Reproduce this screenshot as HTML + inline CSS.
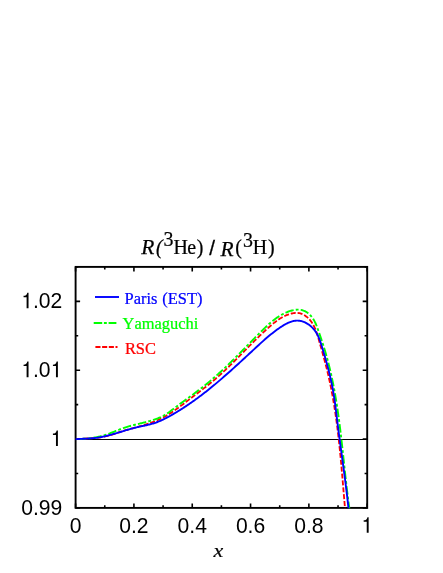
<!DOCTYPE html>
<html><head><meta charset="utf-8"><title>R(3He)/R(3H)</title>
<style>html,body{margin:0;padding:0;background:#fff;}svg{display:block;will-change:transform;}text{font-kerning:none;}</style>
</head><body>
<svg width="443" height="573" viewBox="0 0 443 573">
<rect width="443" height="573" fill="#fff"/>
<defs><clipPath id="c"><rect x="75.0" y="266.9" width="292.20" height="241.30"/></clipPath></defs>
<rect x="75.6" y="266.9" width="291.60" height="241.00" fill="none" stroke="#000" stroke-width="1.9"/>
<path d="M75.60,507.9 v-4.5 M75.60,266.9 v4.5 M104.76,507.9 v-2.6 M104.76,266.9 v2.6 M133.92,507.9 v-4.5 M133.92,266.9 v4.5 M163.08,507.9 v-2.6 M163.08,266.9 v2.6 M192.24,507.9 v-4.5 M192.24,266.9 v4.5 M221.40,507.9 v-2.6 M221.40,266.9 v2.6 M250.56,507.9 v-4.5 M250.56,266.9 v4.5 M279.72,507.9 v-2.6 M279.72,266.9 v2.6 M308.88,507.9 v-4.5 M308.88,266.9 v4.5 M338.04,507.9 v-2.6 M338.04,266.9 v2.6 M367.20,507.9 v-4.5 M367.20,266.9 v4.5 M75.6,507.90 h4.5 M367.2,507.90 h-4.5 M75.6,473.47 h2.6 M367.2,473.47 h-2.6 M75.6,439.04 h4.5 M367.2,439.04 h-4.5 M75.6,404.61 h2.6 M367.2,404.61 h-2.6 M75.6,370.19 h4.5 M367.2,370.19 h-4.5 M75.6,335.76 h2.6 M367.2,335.76 h-2.6 M75.6,301.33 h4.5 M367.2,301.33 h-4.5 M75.6,266.90 h2.6 M367.2,266.90 h-2.6" stroke="#000" stroke-width="1.6" fill="none"/>
<path d="M75.6,439.45 H367.2" stroke="#000" stroke-width="1.15" fill="none"/>
<g clip-path="url(#c)" fill="none" stroke-linejoin="round">
<path d="M75.61,439.25 L76.39,439.17 L77.16,439.11 L77.94,439.04 L78.72,438.98 L79.50,438.93 L80.29,438.87 L81.07,438.83 L81.85,438.78 L82.64,438.73 L83.43,438.69 L84.22,438.65 L85.00,438.61 L85.79,438.56 L86.58,438.52 L87.37,438.48 L88.16,438.44 L88.95,438.39 L89.74,438.35 L90.53,438.30 L91.32,438.25 L92.11,438.19 L92.90,438.14 L93.69,438.08 L94.48,438.01 L95.26,437.94 L96.05,437.86 L96.83,437.78 L97.62,437.69 L98.40,437.60 L99.18,437.50 L99.96,437.39 L100.73,437.27 L101.51,437.15 L102.28,437.02 L103.05,436.88 L103.82,436.72 L104.59,436.56 L105.36,436.39 L106.12,436.22 L106.88,436.03 L107.64,435.84 L108.40,435.64 L109.15,435.43 L109.91,435.22 L110.66,435.00 L111.42,434.78 L112.17,434.56 L112.92,434.32 L113.67,434.09 L114.42,433.85 L115.17,433.61 L115.92,433.37 L116.67,433.13 L117.42,432.88 L118.16,432.63 L118.91,432.39 L119.66,432.14 L120.41,431.89 L121.16,431.65 L121.91,431.41 L122.66,431.17 L123.41,430.93 L124.16,430.69 L124.91,430.46 L125.67,430.23 L126.42,430.00 L127.18,429.78 L127.93,429.56 L128.69,429.35 L129.45,429.13 L130.20,428.92 L130.96,428.71 L131.72,428.50 L132.48,428.29 L133.24,428.09 L134.00,427.88 L134.76,427.68 L135.52,427.47 L136.28,427.27 L137.04,427.06 L137.80,426.86 L138.56,426.65 L139.32,426.44 L140.07,426.23 L140.83,426.02 L141.59,425.80 L142.34,425.58 L143.10,425.36 L143.85,425.14 L144.61,424.91 L145.36,424.68 L146.11,424.45 L146.86,424.21 L147.61,423.97 L148.36,423.72 L149.10,423.47 L149.85,423.21 L150.59,422.94 L151.33,422.67 L152.07,422.40 L152.81,422.12 L153.54,421.84 L154.27,421.55 L155.00,421.25 L155.73,420.95 L156.46,420.64 L157.18,420.33 L157.90,420.01 L158.62,419.69 L159.33,419.36 L160.04,419.02 L160.75,418.68 L161.46,418.34 L162.16,417.98 L162.86,417.63 L163.55,417.26 L164.24,416.89 L164.93,416.52 L165.61,416.13 L166.29,415.75 L166.97,415.35 L167.64,414.95 L168.31,414.55 L168.97,414.14 L169.64,413.72 L170.30,413.30 L170.95,412.88 L171.61,412.45 L172.26,412.02 L172.91,411.58 L173.55,411.14 L174.20,410.69 L174.84,410.24 L175.48,409.79 L176.12,409.34 L176.75,408.88 L177.39,408.42 L178.02,407.96 L178.66,407.49 L179.29,407.02 L179.92,406.55 L180.54,406.08 L181.17,405.61 L181.80,405.14 L182.43,404.66 L183.05,404.18 L183.68,403.70 L184.30,403.23 L184.93,402.75 L185.56,402.27 L186.18,401.79 L186.81,401.31 L187.43,400.83 L188.06,400.35 L188.69,399.87 L189.32,399.40 L189.95,398.92 L190.57,398.44 L191.20,397.96 L191.83,397.49 L192.46,397.01 L193.09,396.53 L193.72,396.06 L194.35,395.58 L194.98,395.10 L195.61,394.63 L196.24,394.15 L196.87,393.67 L197.50,393.19 L198.13,392.72 L198.76,392.24 L199.38,391.76 L200.01,391.28 L200.64,390.80 L201.26,390.32 L201.89,389.84 L202.51,389.35 L203.14,388.87 L203.76,388.39 L204.38,387.90 L205.01,387.42 L205.63,386.93 L206.24,386.44 L206.86,385.95 L207.48,385.46 L208.10,384.97 L208.71,384.48 L209.32,383.98 L209.93,383.49 L210.54,382.99 L211.15,382.49 L211.76,381.99 L212.36,381.49 L212.97,380.99 L213.57,380.48 L214.17,379.98 L214.77,379.47 L215.36,378.96 L215.96,378.45 L216.55,377.93 L217.14,377.42 L217.73,376.90 L218.32,376.38 L218.90,375.86 L219.49,375.34 L220.07,374.81 L220.65,374.29 L221.23,373.76 L221.81,373.23 L222.38,372.70 L222.96,372.17 L223.53,371.64 L224.10,371.10 L224.67,370.57 L225.24,370.03 L225.81,369.50 L226.38,368.96 L226.95,368.42 L227.51,367.87 L228.08,367.33 L228.64,366.79 L229.20,366.24 L229.76,365.70 L230.32,365.15 L230.88,364.61 L231.44,364.06 L232.00,363.51 L232.56,362.96 L233.11,362.41 L233.67,361.86 L234.23,361.30 L234.78,360.75 L235.33,360.20 L235.89,359.64 L236.44,359.09 L237.00,358.53 L237.55,357.98 L238.10,357.42 L238.65,356.86 L239.20,356.31 L239.76,355.75 L240.31,355.19 L240.86,354.63 L241.41,354.07 L241.96,353.51 L242.51,352.96 L243.06,352.40 L243.62,351.84 L244.17,351.28 L244.72,350.72 L245.27,350.16 L245.82,349.60 L246.37,349.04 L246.93,348.48 L247.48,347.92 L248.03,347.36 L248.59,346.80 L249.14,346.24 L249.70,345.68 L250.25,345.12 L250.81,344.56 L251.36,344.01 L251.92,343.45 L252.48,342.89 L253.04,342.33 L253.60,341.78 L254.16,341.22 L254.72,340.66 L255.28,340.11 L255.84,339.55 L256.41,339.00 L256.97,338.45 L257.54,337.89 L258.11,337.34 L258.68,336.79 L259.25,336.24 L259.82,335.69 L260.39,335.14 L260.96,334.59 L261.54,334.05 L262.11,333.50 L262.69,332.96 L263.27,332.41 L263.85,331.87 L264.43,331.33 L265.01,330.79 L265.60,330.25 L266.19,329.71 L266.77,329.17 L267.37,328.63 L267.96,328.10 L268.55,327.57 L269.15,327.04 L269.75,326.51 L270.35,325.98 L270.95,325.46 L271.55,324.94 L272.16,324.43 L272.77,323.92 L273.39,323.41 L274.01,322.91 L274.63,322.42 L275.26,321.94 L275.88,321.46 L276.52,320.99 L277.16,320.52 L277.80,320.07 L278.44,319.62 L279.09,319.19 L279.75,318.76 L280.41,318.35 L281.08,317.94 L281.75,317.55 L282.42,317.17 L283.11,316.80 L283.80,316.44 L284.49,316.10 L285.19,315.77 L285.90,315.45 L286.61,315.15 L287.33,314.87 L288.06,314.60 L288.79,314.34 L289.53,314.11 L290.28,313.89 L291.03,313.68 L291.80,313.50 L292.57,313.33 L293.34,313.19 L294.12,313.08 L294.89,312.99 L295.67,312.93 L296.45,312.91 L297.23,312.93 L298.00,312.98 L298.76,313.08 L299.52,313.22 L300.27,313.41 L301.01,313.63 L301.74,313.90 L302.46,314.20 L303.17,314.53 L303.86,314.90 L304.54,315.30 L305.21,315.73 L305.86,316.18 L306.49,316.66 L307.10,317.16 L307.70,317.67 L308.27,318.21 L308.82,318.76 L309.36,319.32 L309.87,319.90 L310.36,320.49 L310.84,321.09 L311.30,321.71 L311.74,322.34 L312.17,322.98 L312.58,323.64 L312.97,324.30 L313.35,324.97 L313.72,325.66 L314.07,326.35 L314.41,327.05 L314.74,327.76 L315.05,328.48 L315.36,329.21 L315.65,329.94 L315.94,330.68 L316.22,331.42 L316.48,332.17 L316.74,332.92 L317.00,333.68 L317.24,334.44 L317.49,335.21 L317.72,335.98 L317.95,336.75 L318.18,337.52 L318.40,338.29 L318.62,339.07 L318.84,339.84 L319.06,340.62 L319.28,341.39 L319.49,342.17 L319.71,342.94 L319.93,343.71 L320.14,344.48 L320.36,345.25 L320.58,346.01 L320.79,346.78 L321.01,347.55 L321.23,348.31 L321.44,349.07 L321.66,349.84 L321.87,350.60 L322.08,351.36 L322.30,352.12 L322.51,352.88 L322.72,353.64 L322.93,354.39 L323.14,355.15 L323.35,355.91 L323.56,356.67 L323.77,357.42 L323.98,358.18 L324.19,358.94 L324.39,359.69 L324.60,360.45 L324.80,361.21 L325.00,361.96 L325.20,362.72 L325.40,363.48 L325.60,364.23 L325.80,364.99 L325.99,365.75 L326.18,366.50 L326.38,367.26 L326.57,368.02 L326.76,368.78 L326.94,369.54 L327.13,370.30 L327.32,371.06 L327.50,371.82 L327.68,372.58 L327.86,373.34 L328.04,374.10 L328.22,374.86 L328.39,375.63 L328.57,376.39 L328.74,377.15 L328.91,377.92 L329.08,378.68 L329.25,379.45 L329.41,380.21 L329.58,380.98 L329.74,381.74 L329.91,382.51 L330.07,383.28 L330.23,384.04 L330.39,384.81 L330.54,385.58 L330.70,386.35 L330.85,387.11 L331.01,387.88 L331.16,388.65 L331.31,389.42 L331.46,390.19 L331.61,390.96 L331.75,391.73 L331.90,392.50 L332.04,393.27 L332.19,394.05 L332.33,394.82 L332.47,395.59 L332.61,396.36 L332.75,397.14 L332.88,397.91 L333.02,398.68 L333.15,399.46 L333.29,400.23 L333.42,401.00 L333.55,401.78 L333.68,402.55 L333.81,403.33 L333.94,404.10 L334.07,404.88 L334.19,405.66 L334.32,406.43 L334.44,407.21 L334.56,407.99 L334.68,408.76 L334.80,409.54 L334.92,410.32 L335.04,411.10 L335.16,411.87 L335.27,412.65 L335.39,413.43 L335.50,414.21 L335.62,414.99 L335.73,415.77 L335.84,416.55 L335.95,417.33 L336.06,418.11 L336.17,418.89 L336.28,419.67 L336.38,420.45 L336.49,421.23 L336.60,422.01 L336.70,422.79 L336.80,423.57 L336.91,424.35 L337.01,425.13 L337.11,425.91 L337.21,426.69 L337.31,427.48 L337.40,428.26 L337.50,429.04 L337.60,429.82 L337.70,430.61 L337.79,431.39 L337.88,432.17 L337.98,432.95 L338.07,433.74 L338.16,434.52 L338.25,435.30 L338.35,436.09 L338.44,436.87 L338.53,437.66 L338.61,438.44 L338.70,439.22 L338.79,440.01 L338.88,440.79 L338.96,441.58 L339.05,442.36 L339.13,443.14 L339.22,443.93 L339.30,444.71 L339.38,445.50 L339.47,446.28 L339.55,447.07 L339.63,447.85 L339.71,448.64 L339.79,449.42 L339.87,450.21 L339.95,450.99 L340.03,451.78 L340.11,452.56 L340.18,453.35 L340.26,454.13 L340.34,454.92 L340.41,455.70 L340.49,456.49 L340.57,457.27 L340.64,458.06 L340.72,458.84 L340.79,459.63 L340.86,460.41 L340.94,461.20 L341.01,461.98 L341.08,462.77 L341.15,463.55 L341.23,464.34 L341.30,465.12 L341.37,465.91 L341.44,466.69 L341.51,467.48 L341.58,468.27 L341.65,469.05 L341.72,469.84 L341.79,470.62 L341.86,471.40 L341.93,472.19 L342.00,472.97 L342.07,473.76 L342.13,474.54 L342.20,475.33 L342.27,476.11 L342.34,476.90 L342.41,477.68 L342.47,478.47 L342.54,479.25 L342.61,480.03 L342.67,480.82 L342.74,481.60 L342.81,482.38 L342.87,483.17 L342.94,483.95 L343.01,484.74 L343.07,485.52 L343.14,486.30 L343.20,487.08 L343.27,487.87 L343.34,488.65 L343.40,489.43 L343.47,490.22 L343.53,491.00 L343.60,491.78 L343.67,492.56 L343.73,493.34 L343.80,494.12 L343.86,494.91 L343.93,495.69 L344.00,496.47 L344.06,497.25 L344.13,498.03 L344.19,498.81 L344.26,499.59 L344.33,500.37 L344.39,501.15 L344.46,501.93 L344.53,502.71 L344.59,503.49 L344.66,504.27 L344.73,505.05 L344.80,505.83 L344.86,506.61 L344.93,507.38 L345.00,508.16 L345.07,508.94" stroke="#ff0000" stroke-width="1.8" stroke-dasharray="5.0 1.9" stroke-dashoffset="5.99"/>
<path d="M75.60,439.18 L76.39,439.16 L77.19,439.13 L77.98,439.09 L78.78,439.06 L79.58,439.02 L80.38,438.98 L81.17,438.94 L81.97,438.89 L82.77,438.84 L83.57,438.79 L84.37,438.74 L85.16,438.67 L85.96,438.61 L86.76,438.54 L87.55,438.47 L88.35,438.39 L89.15,438.30 L89.94,438.21 L90.73,438.12 L91.52,438.01 L92.31,437.91 L93.10,437.79 L93.89,437.67 L94.68,437.54 L95.46,437.40 L96.24,437.26 L97.02,437.11 L97.80,436.95 L98.58,436.78 L99.35,436.61 L100.13,436.42 L100.90,436.23 L101.66,436.03 L102.43,435.82 L103.19,435.60 L103.95,435.37 L104.71,435.13 L105.47,434.88 L106.22,434.63 L106.97,434.37 L107.72,434.11 L108.47,433.84 L109.22,433.56 L109.97,433.28 L110.71,433.00 L111.45,432.71 L112.20,432.42 L112.94,432.13 L113.68,431.84 L114.43,431.54 L115.17,431.25 L115.91,430.95 L116.65,430.66 L117.40,430.36 L118.14,430.07 L118.89,429.78 L119.63,429.49 L120.38,429.21 L121.12,428.92 L121.87,428.65 L122.62,428.37 L123.37,428.11 L124.12,427.85 L124.88,427.59 L125.64,427.34 L126.39,427.10 L127.16,426.87 L127.92,426.64 L128.68,426.41 L129.45,426.19 L130.21,425.98 L130.98,425.77 L131.75,425.56 L132.52,425.36 L133.29,425.16 L134.07,424.96 L134.84,424.77 L135.61,424.58 L136.39,424.39 L137.17,424.20 L137.94,424.01 L138.72,423.82 L139.49,423.64 L140.27,423.45 L141.05,423.26 L141.83,423.08 L142.60,422.89 L143.38,422.70 L144.16,422.51 L144.93,422.31 L145.71,422.11 L146.48,421.91 L147.26,421.71 L148.03,421.50 L148.80,421.29 L149.57,421.08 L150.34,420.85 L151.11,420.63 L151.88,420.40 L152.64,420.16 L153.41,419.92 L154.16,419.67 L154.92,419.41 L155.67,419.14 L156.42,418.87 L157.17,418.59 L157.91,418.30 L158.64,418.00 L159.38,417.69 L160.10,417.37 L160.82,417.05 L161.54,416.71 L162.25,416.36 L162.96,416.00 L163.65,415.63 L164.35,415.24 L165.03,414.85 L165.71,414.44 L166.38,414.02 L167.05,413.59 L167.70,413.15 L168.36,412.70 L169.01,412.24 L169.65,411.78 L170.30,411.30 L170.93,410.83 L171.57,410.34 L172.20,409.86 L172.84,409.37 L173.47,408.88 L174.10,408.39 L174.73,407.90 L175.36,407.41 L175.99,406.92 L176.63,406.43 L177.26,405.95 L177.90,405.47 L178.54,404.99 L179.18,404.52 L179.82,404.04 L180.46,403.57 L181.10,403.11 L181.75,402.64 L182.39,402.17 L183.04,401.71 L183.68,401.24 L184.33,400.78 L184.97,400.32 L185.62,399.85 L186.27,399.39 L186.91,398.92 L187.56,398.46 L188.20,397.99 L188.85,397.53 L189.49,397.06 L190.14,396.59 L190.78,396.12 L191.42,395.64 L192.06,395.17 L192.70,394.70 L193.34,394.22 L193.98,393.74 L194.62,393.27 L195.26,392.79 L195.90,392.31 L196.53,391.82 L197.17,391.34 L197.80,390.86 L198.44,390.37 L199.07,389.88 L199.70,389.40 L200.33,388.91 L200.96,388.41 L201.59,387.92 L202.22,387.43 L202.84,386.93 L203.47,386.44 L204.10,385.94 L204.72,385.44 L205.34,384.94 L205.96,384.44 L206.58,383.94 L207.20,383.43 L207.82,382.93 L208.44,382.42 L209.05,381.91 L209.66,381.40 L210.28,380.89 L210.89,380.37 L211.50,379.86 L212.11,379.34 L212.71,378.83 L213.32,378.31 L213.92,377.79 L214.52,377.26 L215.12,376.74 L215.72,376.22 L216.32,375.69 L216.92,375.16 L217.51,374.63 L218.11,374.10 L218.70,373.57 L219.29,373.04 L219.88,372.50 L220.47,371.96 L221.05,371.43 L221.64,370.89 L222.22,370.35 L222.81,369.81 L223.39,369.26 L223.97,368.72 L224.55,368.18 L225.13,367.63 L225.71,367.08 L226.28,366.54 L226.86,365.99 L227.43,365.44 L228.01,364.88 L228.58,364.33 L229.15,363.78 L229.72,363.23 L230.29,362.67 L230.86,362.12 L231.43,361.56 L232.00,361.00 L232.56,360.44 L233.13,359.88 L233.70,359.33 L234.26,358.76 L234.83,358.20 L235.39,357.64 L235.95,357.08 L236.52,356.52 L237.08,355.95 L237.64,355.39 L238.20,354.82 L238.76,354.26 L239.32,353.69 L239.88,353.13 L240.44,352.56 L241.00,351.99 L241.56,351.43 L242.12,350.86 L242.68,350.29 L243.24,349.72 L243.80,349.15 L244.36,348.58 L244.92,348.02 L245.47,347.45 L246.03,346.88 L246.59,346.31 L247.15,345.74 L247.71,345.17 L248.27,344.60 L248.82,344.03 L249.38,343.46 L249.94,342.89 L250.50,342.31 L251.06,341.74 L251.62,341.17 L252.18,340.60 L252.74,340.03 L253.30,339.46 L253.86,338.89 L254.42,338.33 L254.98,337.76 L255.55,337.19 L256.11,336.62 L256.67,336.05 L257.24,335.48 L257.80,334.91 L258.37,334.35 L258.93,333.78 L259.50,333.21 L260.06,332.64 L260.63,332.08 L261.20,331.51 L261.77,330.95 L262.34,330.38 L262.91,329.82 L263.48,329.26 L264.06,328.70 L264.63,328.14 L265.21,327.59 L265.79,327.03 L266.37,326.48 L266.95,325.94 L267.54,325.39 L268.13,324.85 L268.72,324.32 L269.32,323.78 L269.92,323.26 L270.52,322.73 L271.13,322.22 L271.74,321.70 L272.35,321.20 L272.97,320.70 L273.59,320.20 L274.22,319.71 L274.85,319.23 L275.49,318.76 L276.13,318.29 L276.78,317.83 L277.43,317.38 L278.09,316.94 L278.76,316.50 L279.43,316.08 L280.10,315.66 L280.79,315.25 L281.48,314.85 L282.17,314.47 L282.88,314.09 L283.59,313.72 L284.31,313.36 L285.03,313.02 L285.77,312.68 L286.51,312.36 L287.26,312.05 L288.01,311.75 L288.78,311.47 L289.55,311.20 L290.32,310.95 L291.10,310.72 L291.88,310.50 L292.66,310.31 L293.45,310.14 L294.23,309.99 L295.02,309.87 L295.80,309.77 L296.58,309.70 L297.36,309.66 L298.14,309.65 L298.91,309.67 L299.67,309.72 L300.43,309.81 L301.18,309.93 L301.93,310.09 L302.66,310.29 L303.38,310.53 L304.10,310.80 L304.80,311.12 L305.49,311.47 L306.17,311.86 L306.83,312.28 L307.47,312.73 L308.11,313.21 L308.72,313.72 L309.32,314.26 L309.90,314.82 L310.46,315.40 L311.01,316.00 L311.53,316.62 L312.03,317.26 L312.51,317.91 L312.97,318.58 L313.40,319.25 L313.82,319.94 L314.21,320.64 L314.59,321.34 L314.96,322.06 L315.30,322.78 L315.64,323.52 L315.96,324.25 L316.27,325.00 L316.57,325.75 L316.86,326.50 L317.15,327.26 L317.42,328.02 L317.70,328.78 L317.97,329.54 L318.23,330.30 L318.50,331.06 L318.77,331.83 L319.03,332.59 L319.29,333.35 L319.56,334.11 L319.82,334.87 L320.08,335.63 L320.34,336.39 L320.60,337.15 L320.85,337.91 L321.11,338.67 L321.37,339.43 L321.62,340.19 L321.87,340.95 L322.12,341.71 L322.37,342.47 L322.62,343.22 L322.87,343.98 L323.11,344.74 L323.35,345.50 L323.60,346.26 L323.83,347.02 L324.07,347.78 L324.31,348.55 L324.54,349.31 L324.78,350.07 L325.01,350.83 L325.23,351.59 L325.46,352.36 L325.68,353.12 L325.91,353.88 L326.13,354.65 L326.34,355.41 L326.56,356.18 L326.78,356.95 L326.99,357.71 L327.20,358.48 L327.41,359.25 L327.61,360.01 L327.82,360.78 L328.02,361.55 L328.22,362.32 L328.42,363.09 L328.62,363.86 L328.82,364.63 L329.01,365.40 L329.20,366.17 L329.39,366.95 L329.58,367.72 L329.77,368.49 L329.95,369.26 L330.14,370.04 L330.32,370.81 L330.50,371.59 L330.68,372.36 L330.86,373.13 L331.03,373.91 L331.21,374.69 L331.38,375.46 L331.55,376.24 L331.72,377.02 L331.89,377.79 L332.05,378.57 L332.22,379.35 L332.38,380.13 L332.54,380.91 L332.70,381.68 L332.86,382.46 L333.02,383.24 L333.17,384.02 L333.33,384.80 L333.48,385.59 L333.63,386.37 L333.78,387.15 L333.93,387.93 L334.08,388.71 L334.23,389.49 L334.37,390.28 L334.51,391.06 L334.66,391.84 L334.80,392.63 L334.94,393.41 L335.08,394.19 L335.21,394.98 L335.35,395.76 L335.48,396.55 L335.62,397.33 L335.75,398.12 L335.88,398.90 L336.01,399.69 L336.14,400.48 L336.27,401.26 L336.40,402.05 L336.52,402.84 L336.65,403.62 L336.77,404.41 L336.89,405.20 L337.02,405.99 L337.14,406.78 L337.26,407.56 L337.37,408.35 L337.49,409.14 L337.61,409.93 L337.73,410.72 L337.84,411.51 L337.95,412.30 L338.07,413.09 L338.18,413.88 L338.29,414.67 L338.40,415.46 L338.51,416.25 L338.62,417.04 L338.73,417.83 L338.83,418.62 L338.94,419.41 L339.05,420.21 L339.15,421.00 L339.26,421.79 L339.36,422.58 L339.46,423.37 L339.56,424.16 L339.66,424.96 L339.77,425.75 L339.87,426.54 L339.96,427.33 L340.06,428.13 L340.16,428.92 L340.26,429.71 L340.36,430.51 L340.45,431.30 L340.55,432.09 L340.64,432.89 L340.74,433.68 L340.83,434.47 L340.93,435.27 L341.02,436.06 L341.11,436.86 L341.20,437.65 L341.30,438.44 L341.39,439.24 L341.48,440.03 L341.57,440.83 L341.66,441.62 L341.75,442.41 L341.84,443.21 L341.93,444.00 L342.02,444.80 L342.11,445.59 L342.19,446.39 L342.28,447.18 L342.37,447.98 L342.46,448.77 L342.54,449.56 L342.63,450.36 L342.72,451.15 L342.80,451.95 L342.89,452.74 L342.98,453.54 L343.06,454.33 L343.15,455.13 L343.23,455.92 L343.32,456.72 L343.41,457.51 L343.49,458.31 L343.58,459.10 L343.66,459.90 L343.75,460.69 L343.83,461.48 L343.92,462.28 L344.00,463.07 L344.09,463.87 L344.17,464.66 L344.26,465.46 L344.34,466.25 L344.43,467.04 L344.52,467.84 L344.60,468.63 L344.69,469.43 L344.77,470.22 L344.86,471.01 L344.95,471.81 L345.03,472.60 L345.12,473.39 L345.21,474.19 L345.29,474.98 L345.38,475.77 L345.47,476.57 L345.56,477.36 L345.64,478.15 L345.73,478.94 L345.82,479.74 L345.91,480.53 L346.00,481.32 L346.09,482.11 L346.18,482.91 L346.27,483.70 L346.36,484.49 L346.45,485.28 L346.54,486.07 L346.63,486.86 L346.73,487.65 L346.82,488.45 L346.91,489.24 L347.01,490.03 L347.10,490.82 L347.20,491.61 L347.29,492.40 L347.39,493.19 L347.49,493.98 L347.58,494.77 L347.68,495.55 L347.78,496.34 L347.88,497.13 L347.98,497.92 L348.08,498.71 L348.18,499.50 L348.28,500.29 L348.38,501.07 L348.49,501.86 L348.59,502.65 L348.69,503.43 L348.80,504.22 L348.90,505.01 L349.01,505.79 L349.12,506.58 L349.23,507.37 L349.34,508.15 L349.45,508.94" stroke="#00ff00" stroke-width="1.9" stroke-dasharray="8.5 2.15 2.8 2.15" stroke-dashoffset="13.43"/>
<path d="M75.60,439.18 L76.36,439.13 L77.13,439.08 L77.90,439.04 L78.66,439.00 L79.43,438.96 L80.20,438.92 L80.97,438.89 L81.74,438.85 L82.51,438.82 L83.29,438.78 L84.06,438.75 L84.83,438.71 L85.61,438.67 L86.38,438.64 L87.15,438.60 L87.92,438.55 L88.70,438.51 L89.47,438.46 L90.24,438.41 L91.01,438.35 L91.78,438.29 L92.55,438.23 L93.32,438.16 L94.09,438.08 L94.85,438.00 L95.62,437.91 L96.38,437.82 L97.15,437.72 L97.91,437.61 L98.67,437.49 L99.43,437.37 L100.19,437.23 L100.94,437.10 L101.70,436.95 L102.45,436.80 L103.20,436.65 L103.96,436.49 L104.71,436.32 L105.46,436.15 L106.20,435.97 L106.95,435.79 L107.70,435.61 L108.44,435.42 L109.19,435.22 L109.93,435.02 L110.68,434.82 L111.42,434.62 L112.16,434.41 L112.90,434.20 L113.64,433.99 L114.38,433.77 L115.12,433.56 L115.86,433.34 L116.60,433.12 L117.34,432.89 L118.07,432.67 L118.81,432.45 L119.55,432.22 L120.28,432.00 L121.02,431.77 L121.76,431.55 L122.49,431.32 L123.23,431.10 L123.97,430.87 L124.70,430.65 L125.44,430.43 L126.18,430.21 L126.92,429.99 L127.65,429.77 L128.39,429.55 L129.13,429.34 L129.87,429.13 L130.61,428.92 L131.36,428.71 L132.10,428.51 L132.84,428.31 L133.59,428.11 L134.33,427.92 L135.08,427.73 L135.83,427.54 L136.58,427.36 L137.33,427.18 L138.08,427.01 L138.84,426.84 L139.59,426.68 L140.35,426.51 L141.10,426.35 L141.86,426.19 L142.62,426.03 L143.37,425.87 L144.13,425.71 L144.89,425.55 L145.64,425.38 L146.39,425.22 L147.15,425.05 L147.90,424.87 L148.65,424.69 L149.40,424.51 L150.14,424.32 L150.89,424.12 L151.63,423.92 L152.37,423.71 L153.10,423.49 L153.84,423.27 L154.57,423.03 L155.29,422.78 L156.02,422.53 L156.74,422.26 L157.45,421.99 L158.17,421.71 L158.88,421.42 L159.59,421.13 L160.29,420.82 L161.00,420.51 L161.70,420.20 L162.40,419.87 L163.09,419.54 L163.79,419.21 L164.48,418.87 L165.17,418.52 L165.85,418.17 L166.54,417.81 L167.22,417.45 L167.90,417.09 L168.58,416.72 L169.26,416.35 L169.93,415.98 L170.61,415.60 L171.28,415.22 L171.95,414.83 L172.62,414.45 L173.29,414.06 L173.95,413.67 L174.62,413.28 L175.28,412.89 L175.94,412.49 L176.60,412.10 L177.26,411.70 L177.92,411.29 L178.58,410.89 L179.23,410.49 L179.89,410.08 L180.54,409.67 L181.19,409.26 L181.84,408.84 L182.49,408.43 L183.14,408.01 L183.78,407.59 L184.43,407.17 L185.07,406.75 L185.72,406.33 L186.36,405.90 L187.00,405.47 L187.63,405.04 L188.27,404.61 L188.91,404.18 L189.54,403.74 L190.18,403.31 L190.81,402.87 L191.44,402.43 L192.07,401.99 L192.70,401.54 L193.33,401.10 L193.96,400.65 L194.58,400.20 L195.21,399.75 L195.83,399.30 L196.45,398.85 L197.07,398.39 L197.69,397.94 L198.31,397.48 L198.93,397.02 L199.55,396.56 L200.17,396.10 L200.78,395.63 L201.40,395.17 L202.01,394.70 L202.62,394.24 L203.23,393.77 L203.84,393.30 L204.45,392.82 L205.06,392.35 L205.67,391.88 L206.27,391.40 L206.88,390.92 L207.48,390.44 L208.09,389.96 L208.69,389.48 L209.29,389.00 L209.89,388.52 L210.49,388.03 L211.09,387.54 L211.69,387.06 L212.29,386.57 L212.89,386.08 L213.48,385.59 L214.08,385.10 L214.67,384.60 L215.26,384.11 L215.86,383.61 L216.45,383.12 L217.04,382.62 L217.63,382.12 L218.22,381.62 L218.81,381.12 L219.40,380.62 L219.99,380.12 L220.57,379.62 L221.16,379.12 L221.74,378.61 L222.33,378.11 L222.91,377.60 L223.50,377.09 L224.08,376.59 L224.66,376.08 L225.24,375.57 L225.82,375.06 L226.41,374.55 L226.98,374.04 L227.56,373.52 L228.14,373.01 L228.72,372.50 L229.30,371.99 L229.87,371.47 L230.45,370.96 L231.03,370.44 L231.60,369.93 L232.18,369.41 L232.75,368.89 L233.32,368.37 L233.90,367.86 L234.47,367.34 L235.04,366.82 L235.61,366.30 L236.18,365.78 L236.76,365.26 L237.33,364.74 L237.90,364.22 L238.47,363.70 L239.03,363.18 L239.60,362.66 L240.17,362.14 L240.74,361.62 L241.31,361.10 L241.87,360.57 L242.44,360.05 L243.01,359.53 L243.57,359.01 L244.14,358.49 L244.70,357.96 L245.27,357.44 L245.83,356.92 L246.40,356.40 L246.96,355.88 L247.53,355.35 L248.09,354.83 L248.65,354.31 L249.22,353.79 L249.78,353.26 L250.34,352.74 L250.90,352.22 L251.47,351.70 L252.03,351.18 L252.59,350.66 L253.15,350.14 L253.71,349.62 L254.27,349.10 L254.84,348.58 L255.40,348.06 L255.96,347.54 L256.52,347.02 L257.08,346.50 L257.64,345.98 L258.20,345.47 L258.76,344.95 L259.33,344.43 L259.89,343.92 L260.46,343.40 L261.02,342.89 L261.59,342.38 L262.16,341.87 L262.73,341.36 L263.30,340.85 L263.87,340.34 L264.45,339.83 L265.02,339.33 L265.60,338.82 L266.18,338.32 L266.76,337.82 L267.35,337.32 L267.94,336.83 L268.53,336.33 L269.12,335.84 L269.72,335.34 L270.31,334.85 L270.92,334.36 L271.52,333.88 L272.13,333.39 L272.74,332.91 L273.36,332.43 L273.98,331.96 L274.60,331.48 L275.23,331.01 L275.86,330.54 L276.49,330.07 L277.13,329.60 L277.78,329.14 L278.43,328.68 L279.08,328.23 L279.74,327.77 L280.40,327.32 L281.07,326.88 L281.74,326.44 L282.42,326.01 L283.10,325.59 L283.78,325.17 L284.47,324.77 L285.16,324.38 L285.85,324.01 L286.54,323.64 L287.24,323.30 L287.95,322.97 L288.65,322.65 L289.36,322.36 L290.07,322.08 L290.78,321.82 L291.49,321.59 L292.20,321.38 L292.92,321.19 L293.63,321.03 L294.35,320.90 L295.07,320.79 L295.79,320.71 L296.51,320.66 L297.23,320.64 L297.95,320.65 L298.68,320.69 L299.40,320.77 L300.12,320.88 L300.83,321.02 L301.55,321.19 L302.26,321.39 L302.97,321.62 L303.67,321.88 L304.37,322.16 L305.06,322.47 L305.75,322.81 L306.42,323.17 L307.09,323.56 L307.75,323.96 L308.40,324.39 L309.04,324.85 L309.67,325.32 L310.28,325.81 L310.88,326.32 L311.47,326.85 L312.04,327.39 L312.60,327.95 L313.15,328.53 L313.67,329.12 L314.18,329.73 L314.67,330.34 L315.14,330.97 L315.59,331.61 L316.02,332.26 L316.43,332.93 L316.83,333.59 L317.20,334.27 L317.56,334.96 L317.90,335.65 L318.23,336.35 L318.54,337.06 L318.84,337.77 L319.13,338.48 L319.41,339.21 L319.68,339.93 L319.95,340.66 L320.20,341.39 L320.45,342.12 L320.69,342.85 L320.93,343.59 L321.17,344.32 L321.40,345.06 L321.64,345.80 L321.86,346.53 L322.09,347.27 L322.32,348.01 L322.54,348.74 L322.76,349.48 L322.99,350.22 L323.21,350.96 L323.43,351.70 L323.65,352.43 L323.87,353.17 L324.08,353.91 L324.30,354.65 L324.52,355.39 L324.73,356.13 L324.95,356.87 L325.16,357.61 L325.37,358.35 L325.58,359.09 L325.79,359.83 L326.00,360.57 L326.21,361.31 L326.42,362.06 L326.62,362.80 L326.83,363.54 L327.03,364.28 L327.23,365.03 L327.43,365.77 L327.63,366.51 L327.83,367.26 L328.02,368.00 L328.21,368.75 L328.41,369.49 L328.60,370.24 L328.79,370.98 L328.98,371.73 L329.16,372.48 L329.35,373.22 L329.53,373.97 L329.71,374.72 L329.89,375.47 L330.06,376.21 L330.24,376.96 L330.41,377.71 L330.58,378.46 L330.75,379.21 L330.92,379.96 L331.09,380.72 L331.25,381.47 L331.41,382.22 L331.57,382.97 L331.73,383.72 L331.88,384.48 L332.03,385.23 L332.18,385.99 L332.33,386.74 L332.47,387.50 L332.62,388.25 L332.76,389.01 L332.90,389.77 L333.03,390.52 L333.16,391.28 L333.30,392.04 L333.42,392.80 L333.55,393.56 L333.68,394.32 L333.80,395.08 L333.92,395.84 L334.04,396.60 L334.16,397.36 L334.27,398.12 L334.38,398.89 L334.50,399.65 L334.61,400.41 L334.72,401.18 L334.83,401.94 L334.93,402.70 L335.04,403.47 L335.14,404.23 L335.24,405.00 L335.35,405.76 L335.45,406.53 L335.55,407.29 L335.65,408.06 L335.74,408.82 L335.84,409.59 L335.94,410.35 L336.04,411.12 L336.13,411.88 L336.23,412.65 L336.32,413.42 L336.42,414.18 L336.51,414.95 L336.61,415.71 L336.70,416.48 L336.79,417.25 L336.89,418.01 L336.98,418.78 L337.08,419.55 L337.17,420.31 L337.27,421.08 L337.36,421.84 L337.46,422.61 L337.55,423.37 L337.65,424.14 L337.75,424.91 L337.84,425.67 L337.94,426.44 L338.04,427.20 L338.14,427.97 L338.24,428.73 L338.34,429.50 L338.43,430.26 L338.53,431.03 L338.63,431.79 L338.73,432.56 L338.83,433.32 L338.94,434.09 L339.04,434.85 L339.14,435.61 L339.24,436.38 L339.34,437.14 L339.44,437.91 L339.55,438.67 L339.65,439.43 L339.75,440.20 L339.85,440.96 L339.96,441.73 L340.06,442.49 L340.16,443.25 L340.27,444.02 L340.37,444.78 L340.47,445.55 L340.58,446.31 L340.68,447.07 L340.79,447.84 L340.89,448.60 L340.99,449.36 L341.10,450.13 L341.20,450.89 L341.31,451.65 L341.41,452.42 L341.52,453.18 L341.62,453.94 L341.73,454.71 L341.83,455.47 L341.93,456.23 L342.04,457.00 L342.14,457.76 L342.25,458.52 L342.35,459.29 L342.46,460.05 L342.56,460.81 L342.67,461.58 L342.77,462.34 L342.87,463.10 L342.98,463.87 L343.08,464.63 L343.18,465.40 L343.29,466.16 L343.39,466.92 L343.49,467.69 L343.60,468.45 L343.70,469.21 L343.80,469.98 L343.91,470.74 L344.01,471.50 L344.11,472.27 L344.21,473.03 L344.31,473.79 L344.41,474.56 L344.51,475.32 L344.62,476.09 L344.72,476.85 L344.82,477.61 L344.92,478.38 L345.02,479.14 L345.11,479.91 L345.21,480.67 L345.31,481.44 L345.41,482.20 L345.51,482.96 L345.61,483.73 L345.70,484.49 L345.80,485.26 L345.90,486.02 L345.99,486.79 L346.09,487.55 L346.18,488.32 L346.28,489.08 L346.37,489.85 L346.47,490.61 L346.56,491.38 L346.65,492.14 L346.74,492.91 L346.84,493.68 L346.93,494.44 L347.02,495.21 L347.11,495.97 L347.20,496.74 L347.29,497.51 L347.38,498.27 L347.46,499.04 L347.55,499.80 L347.64,500.57 L347.72,501.34 L347.81,502.10 L347.89,502.87 L347.98,503.64 L348.06,504.41 L348.15,505.17 L348.23,505.94 L348.31,506.71 L348.39,507.48 L348.47,508.24 L348.55,509.01" stroke="#0000ff" stroke-width="1.9"/>
</g>
<g font-family="Liberation Sans, sans-serif" font-size="22.0" fill="#000">
<g transform="translate(62.30,308.33) scale(0.96,1)">
<path d="M256,0 L256,505 L112,505 L112,568 C205,575 262,600 290,709 L347,709 L347,0 Z" transform="translate(-42.81,0) scale(0.022,-0.022)"/>
<text x="-30.58" y="0">.02</text>
</g>
<g transform="translate(62.30,377.19) scale(0.96,1)">
<path d="M256,0 L256,505 L112,505 L112,568 C205,575 262,600 290,709 L347,709 L347,0 Z" transform="translate(-42.81,0) scale(0.022,-0.022)"/>
<text x="-30.58" y="0">.0</text>
<path d="M256,0 L256,505 L112,505 L112,568 C205,575 262,600 290,709 L347,709 L347,0 Z" transform="translate(-12.23,0) scale(0.022,-0.022)"/>
</g>
<g transform="translate(62.30,446.04) scale(0.96,1)">
<path d="M256,0 L256,505 L112,505 L112,568 C205,575 262,600 290,709 L347,709 L347,0 Z" transform="translate(-12.23,0) scale(0.022,-0.022)"/>
</g>
<g transform="translate(62.30,514.90) scale(0.96,1)">
<text x="-42.81" y="0">0.99</text>
</g>
<g transform="translate(75.60,532.80) scale(0.96,1)">
<text x="-6.12" y="0">0</text>
</g>
<g transform="translate(133.92,532.80) scale(0.96,1)">
<text x="-15.29" y="0">0.2</text>
</g>
<g transform="translate(192.24,532.80) scale(0.96,1)">
<text x="-15.29" y="0">0.4</text>
</g>
<g transform="translate(250.56,532.80) scale(0.96,1)">
<text x="-15.29" y="0">0.6</text>
</g>
<g transform="translate(308.88,532.80) scale(0.96,1)">
<text x="-15.29" y="0">0.8</text>
</g>
<g transform="translate(367.20,532.80) scale(0.96,1)">
<path d="M256,0 L256,505 L112,505 L112,568 C205,575 262,600 290,709 L347,709 L347,0 Z" transform="translate(-6.12,0) scale(0.022,-0.022)"/>
</g>
</g>
<text transform="translate(218.4,556.8) scale(1.12,1)" font-family="Liberation Serif, serif" font-style="italic" font-size="19.6" text-anchor="middle" stroke="#000" stroke-width="0.2">x</text>
<g font-family="Liberation Serif, serif" font-size="21.4" fill="#000" stroke="#000" stroke-width="0.25">
<text transform="translate(141.3,253.8) scale(1.0,1)" font-style="italic">R</text>
<text transform="translate(156.0,253.8) scale(0.93,1)" font-style="italic">(</text>
<text transform="translate(163.4,246.0) scale(0.93,1)">3</text>
<text transform="translate(173.5,253.9) scale(0.93,1)">H</text>
<text transform="translate(187.3,253.9) scale(0.93,1)">e</text>
<text transform="translate(196.8,253.9) scale(0.93,1)">)</text>
<text transform="translate(209.2,254.5) scale(1.05,1)" font-family="Liberation Sans, sans-serif" font-size="19.8">/</text>
<text transform="translate(220.4,255.6) scale(1.0,1)" font-style="italic">R</text>
<text transform="translate(235.3,254.2) scale(0.93,1)">(</text>
<text transform="translate(243.0,247.2) scale(0.93,1)">3</text>
<text transform="translate(252.7,254.2) scale(0.93,1)">H</text>
<text transform="translate(268.1,254.2) scale(0.93,1)">)</text>
</g>
<g fill="none" stroke-width="1.9">
<path d="M95,297 H119" stroke="#0000ff"/>
<path d="M93.7,323 H116.4" stroke="#00ff00" stroke-width="2.2" stroke-dasharray="8.5 1.7 2.9 1.8"/>
<path d="M95.4,347 H117.5" stroke="#ff0000" stroke-width="2.0" stroke-dasharray="5.1 1.6"/>
</g>
<g font-family="Liberation Serif, serif" font-size="17.7">
<text word-spacing="0.9" transform="translate(124.5,304.0) scale(0.93,1)" fill="#0000ff" stroke="#0000ff" stroke-width="0.25">Paris (EST)</text>
<text transform="translate(122.6,329.0) scale(0.93,1)" fill="#00ff00" stroke="#00ff00" stroke-width="0.25">Yamaguchi</text>
<text transform="translate(124.9,353.9) scale(0.93,1)" fill="#ff0000" stroke="#ff0000" stroke-width="0.25">RSC</text>
</g>
</svg>
</body></html>
